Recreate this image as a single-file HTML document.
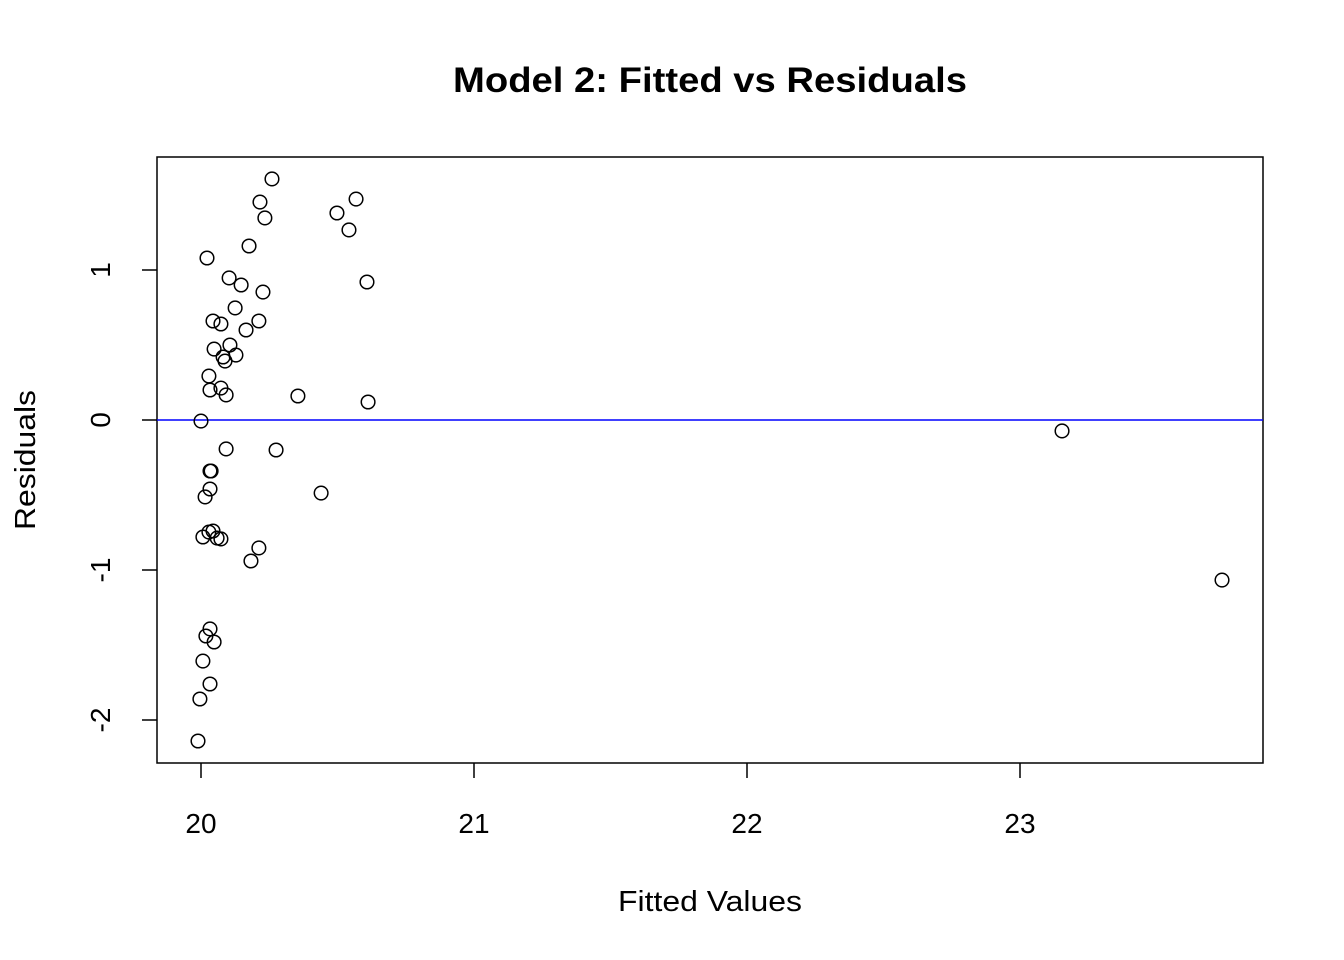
<!DOCTYPE html>
<html><head><meta charset="utf-8"><style>
body{margin:0;background:#fff}
svg{display:block;font-family:"Liberation Sans",Arial,sans-serif}
</style></head><body>
<svg id="chart" width="1344" height="960">
<text x="710" y="92" text-anchor="middle" font-size="35" font-weight="bold" textLength="514" lengthAdjust="spacingAndGlyphs">Model 2: Fitted vs Residuals</text>
<rect x="157" y="157" width="1106" height="606" fill="none" stroke="#000" stroke-width="1.5"/>
<text x="710" y="911" text-anchor="middle" font-size="29" textLength="184" lengthAdjust="spacingAndGlyphs">Fitted Values</text>
<text transform="translate(35,460) rotate(-90)" text-anchor="middle" font-size="29" textLength="140" lengthAdjust="spacingAndGlyphs">Residuals</text>
<g id="axes"></g><g id="pts"></g>
</svg>
<script>
const xTicks=[20,21,22,23];
const yTicks=[-2,-1,0,1];
const fitted=[20.260,20.216,20.568,20.498,20.234,20.542,20.176,20.022,20.608,20.103,20.147,20.227,20.125,20.044,20.073,20.212,20.165,20.106,20.048,20.128,20.081,20.088,20.029,20.073,20.033,20.092,20.355,20.612,20.000,23.154,20.092,20.275,20.033,20.037,20.033,20.440,20.015,20.029,20.044,20.007,20.059,20.073,20.212,20.183,20.033,20.018,20.048,20.007,20.033,19.996,19.989,23.740];
const residuals=[1.607,1.453,1.473,1.380,1.347,1.267,1.160,1.080,0.920,0.947,0.900,0.853,0.747,0.660,0.640,0.660,0.600,0.500,0.473,0.433,0.420,0.393,0.293,0.213,0.200,0.167,0.160,0.120,-0.007,-0.073,-0.193,-0.200,-0.340,-0.340,-0.460,-0.487,-0.513,-0.747,-0.740,-0.780,-0.787,-0.793,-0.853,-0.940,-1.393,-1.440,-1.480,-1.607,-1.760,-1.860,-2.140,-1.067];
const X=v=>201+(v-20)*273;
const Y=v=>420-v*150;
const NS="http://www.w3.org/2000/svg";
function mk(t,a,p){const e=document.createElementNS(NS,t);for(const k in a)e.setAttribute(k,a[k]);p.appendChild(e);return e;}
const ax=document.getElementById('axes');
let l=mk('line',{x1:157,x2:1263,y1:Y(0),y2:Y(0),stroke:'#0000ff','stroke-width':1.5},ax);


xTicks.forEach(v=>{
 const t=mk('line',{x1:X(v),x2:X(v),y1:763,y2:778,stroke:'#000','stroke-width':1.5},ax);
 
 
 const s=mk('text',{x:X(v),y:833,'text-anchor':'middle','font-size':28},ax);s.textContent=v;
 
 
});
yTicks.forEach(v=>{
 const t=mk('line',{x1:142,x2:157,y1:Y(v),y2:Y(v),stroke:'#000','stroke-width':1.5},ax);
 
 
 const s=mk('text',{transform:`translate(110,${Y(v)}) rotate(-90)`,'text-anchor':'middle','font-size':28},ax);s.textContent=v;
 
 
});
const pg=document.getElementById('pts');
fitted.forEach((f,i)=>{
 const c=mk('circle',{cx:X(f),cy:Y(residuals[i]),r:6.8,fill:'none',stroke:'#000','stroke-width':1.5},pg);
 
 
});
</script>
</body></html>
